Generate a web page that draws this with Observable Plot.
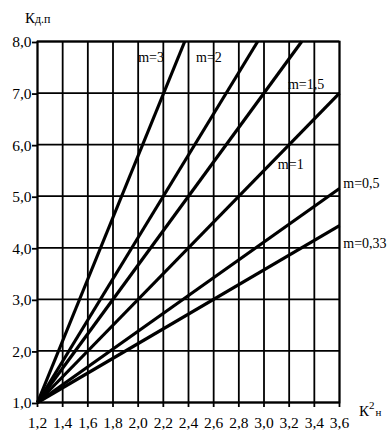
<!DOCTYPE html>
<html>
<head>
<meta charset="utf-8">
<script src="https://cdn.jsdelivr.net/npm/d3@7"></script>
<script src="https://cdn.jsdelivr.net/npm/@observablehq/plot@0.6"></script>
<style>
  html, body { margin: 0; padding: 0; background: #fff; }
  #chart svg { display: block; }
  #chart svg, #chart svg text { font-family: "Liberation Serif", "DejaVu Serif", serif !important; }
</style>
</head>
<body>
<div id="chart"></div>
<script>
// Data
const seriesNames = ["m=3", "m=2", "m=1,5", "m=1", "m=0,5", "m=0,33"];
const startX = [1.2, 1.2, 1.2, 1.2, 1.2, 1.2];
const startY = [1.0, 1.0, 1.0, 1.0, 1.0, 1.0];
const endX = [2.37, 2.95, 3.30, 3.60, 3.60, 3.60];
const endY = [8.0, 8.0, 8.0, 7.0, 5.15, 4.43];
const labelX = [2.00, 2.46, 3.19, 3.11, 3.63, 3.63];
const labelY = [7.69, 7.69, 7.16, 5.62, 5.25, 4.08];
const xTicks = [1.2, 1.4, 1.6, 1.8, 2.0, 2.2, 2.4, 2.6, 2.8, 3.0, 3.2, 3.4, 3.6];
const yTicks = [1, 2, 3, 4, 5, 6, 7, 8];

const lines = seriesNames.map((name, i) => ({
  name, x1: startX[i], y1: startY[i], x2: endX[i], y2: endY[i]
}));
const labels = seriesNames.map((name, i) => ({ name, x: labelX[i], y: labelY[i] }));
const fmt = d => d.toFixed(1).replace(".", ",");
const FONT = "Liberation Serif, DejaVu Serif, serif";

const chart = Plot.plot({
  width: 392,
  height: 440,
  marginLeft: 37,
  marginRight: 53,
  marginTop: 41,
  marginBottom: 38,
  style: { fontFamily: FONT, fontSize: "15px", color: "#000", background: "#fff" },
  x: { domain: [1.2, 3.6], ticks: xTicks, tickFormat: fmt, label: null },
  y: { domain: [1, 8], ticks: yTicks, tickFormat: fmt, label: null },
  marks: [
    Plot.gridX(xTicks, { stroke: "#000", strokeOpacity: 1, strokeWidth: 1.8 }),
    Plot.gridY(yTicks, { stroke: "#000", strokeOpacity: 1, strokeWidth: 1.8 }),
    Plot.axisX(xTicks, { tickSize: 5, tickFormat: () => "", stroke: "#000", strokeWidth: 1.8, label: null }),
    Plot.text(xTicks, { x: d => d, text: fmt, frameAnchor: "bottom", dy: 21, lineAnchor: "middle", textAnchor: "middle", fontSize: 15.5, fill: "#000" }),
    Plot.axisY(yTicks, { tickSize: 5, tickPadding: 1, dy: 1, tickFormat: fmt, stroke: "#000", strokeWidth: 1.8, fontSize: 15.5, label: null }),
    Plot.frame({ stroke: "#000", strokeWidth: 1.8 }),
    Plot.link(lines, { x1: "x1", y1: "y1", x2: "x2", y2: "y2", stroke: "#000", strokeWidth: 3.2 }),
    Plot.text(labels, { x: "x", y: "y", text: "name", textAnchor: "start", fontSize: 14, fill: "#000" })
  ]
});

const svg = d3.select(chart);
const yt = svg.append("text")
  .attr("x", 25).attr("y", 23)
  .attr("text-anchor", "start")
  .attr("font-family", FONT)
  .attr("font-size", 15).attr("fill", "#000");
yt.append("tspan").text("К");
yt.append("tspan").attr("font-size", 12).text("д.п");

const xt = svg.append("text")
  .attr("x", 359).attr("y", 416)
  .attr("text-anchor", "start")
  .attr("font-family", FONT)
  .attr("font-size", 15).attr("fill", "#000");
xt.append("tspan").text("К");
xt.append("tspan").attr("font-size", 11).attr("dy", -7).text("2");
xt.append("tspan").attr("font-size", 11).attr("dx", 1).attr("dy", 7).text("н");

document.getElementById("chart").appendChild(chart);
</script>
</body>
</html>
